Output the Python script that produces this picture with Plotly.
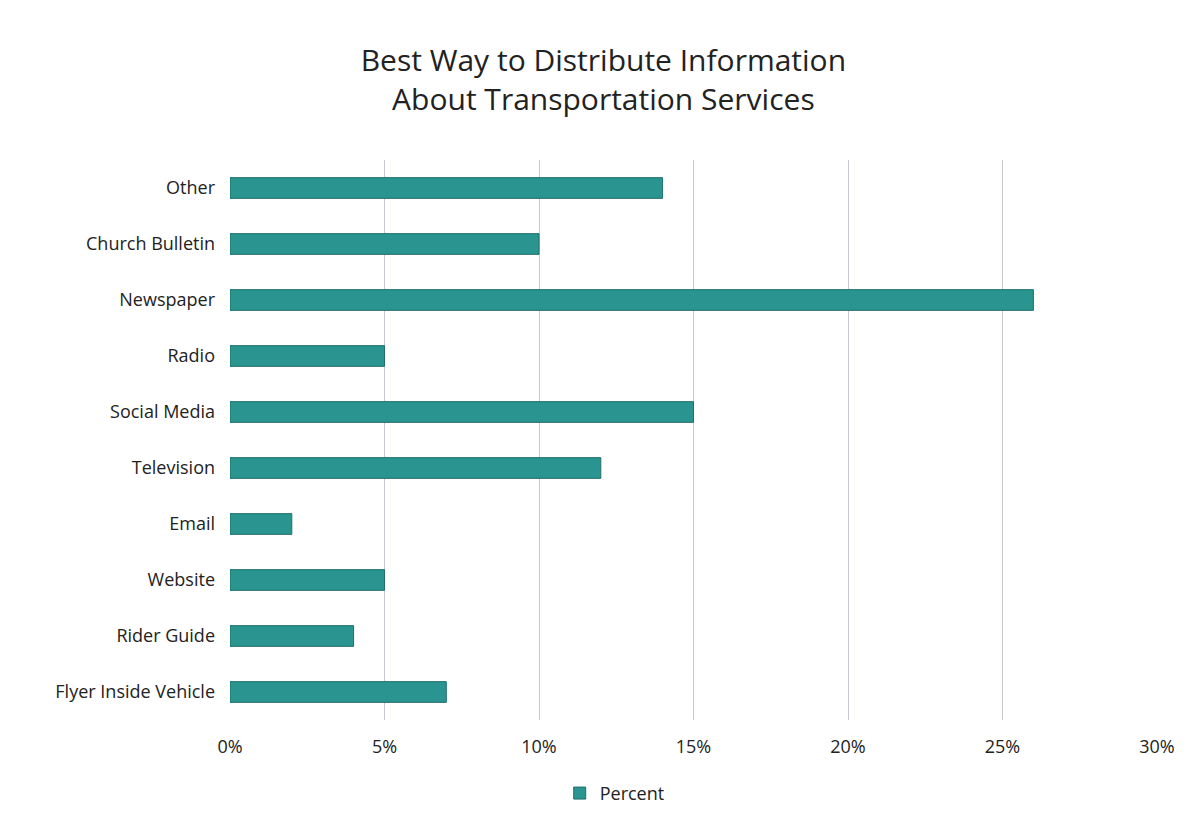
import plotly.graph_objects as go

categories = ["Flyer Inside Vehicle", "Rider Guide", "Website", "Email", "Television",
              "Social Media", "Radio", "Newspaper", "Church Bulletin", "Other"]
percent = [0.07, 0.04, 0.05, 0.02, 0.12, 0.15, 0.05, 0.26, 0.10, 0.14]
tick_vals = [0, 0.05, 0.10, 0.15, 0.20, 0.25, 0.30]
tick_text = ["0%", "5%", "10%", "15%", "20%", "25%", "30%"]

fig = go.Figure()
fig.add_trace(go.Bar(
    y=categories, x=percent, orientation="h", name="Percent",
    marker=dict(color="#2A9490", line=dict(color="#1F6F6C", width=1)),
))

fig.update_layout(
    width=1198, height=836,
    paper_bgcolor="white", plot_bgcolor="white",
    font=dict(family="Open Sans, Noto Sans, sans-serif", color="#222222", size=18),
    title=dict(text="Best Way to Distribute Information<br>About Transportation Services",
               x=0.497, xanchor="center", y=0.925, yanchor="top",
               font=dict(size=30, color="#222222")),
    margin=dict(l=222, r=49, t=152, b=124),
    bargap=0.63,
    showlegend=True,
    legend=dict(orientation="h", x=0.415, xanchor="center", y=-0.098, yanchor="top",
                font=dict(size=18)),
    xaxis=dict(range=[0, 0.30], tickvals=tick_vals, ticktext=tick_text,
               showgrid=True, gridcolor="#C8C8D0", gridwidth=1, zeroline=False,
               ticks="", tickfont=dict(size=18), showline=False, ticklabelstandoff=14),
    yaxis=dict(showgrid=False, ticks="", ticklabelstandoff=14, tickfont=dict(size=18)),
)

fig.write_html("out.html")
